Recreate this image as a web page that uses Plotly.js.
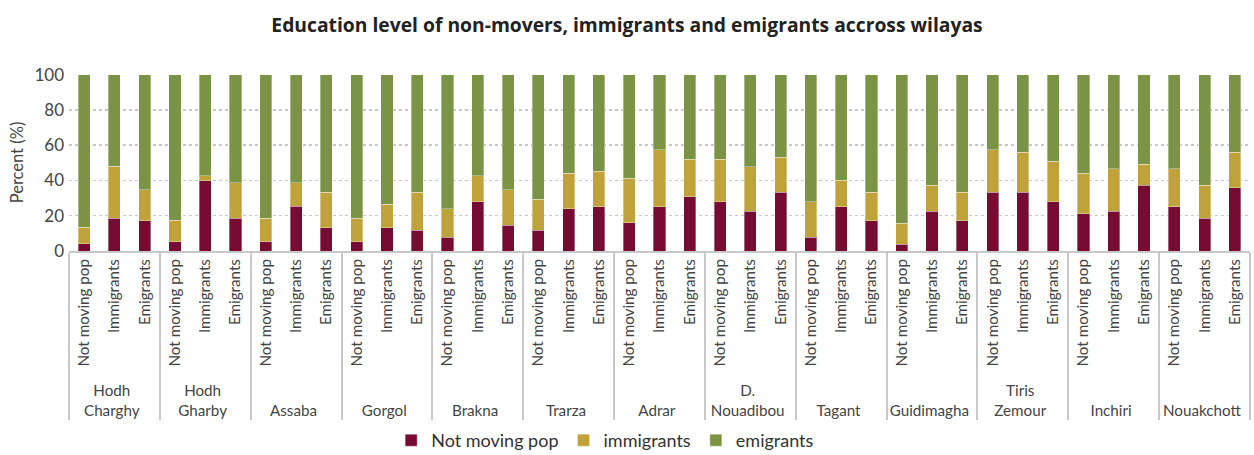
<!DOCTYPE html>
<html>
<head>
<meta charset="utf-8">
<script src="https://cdn.plot.ly/plotly-3.0.1.min.js"></script>
<style>html,body{margin:0;padding:0;background:#fff;}#chart{width:1254px;height:455px;}</style>
</head>
<body>
<div id="chart"></div>
<script>
const wilayas = ["Hodh<br>Charghy","Hodh<br>Gharby","Assaba","Gorgol","Brakna","Trarza","Adrar","D.<br>Nouadibou","Tagant","Guidimagha","Tiris<br>Zemour","Inchiri","Nouakchott"];
const groups = ["Not moving pop","Immigrants","Emigrants"];
// Share (%) per bar, ordered wilaya by wilaya: Not moving pop, Immigrants, Emigrants
const notMoving = [4.0,18.5,17.2, 5.3,39.8,18.5, 5.3,25.3,13.2, 5.3,13.2,11.9, 7.7,27.9,14.5, 11.9,24.0,25.1, 16.0,25.1,30.8, 27.9,22.6,33.2, 7.7,25.1,17.2, 3.8,22.5,17.2, 33.2,33.2,27.9, 21.1,22.5,37.2, 25.1,18.5,35.8];
const immigrants = [9.6,29.6,17.5, 12.1,3.0,20.2, 13.4,13.4,20.2, 13.4,13.4,21.5, 16.3,14.9,20.2, 17.5,20.2,20.2, 25.3,32.3,21.3, 24.2,25.3,20.0, 20.2,14.9,16.0, 12.0,14.7,16.0, 24.2,22.8,23.0, 22.9,24.1,12.0, 21.5,18.7,20.2];
const emigrants = [86.4,51.9,65.3, 82.6,57.2,61.3, 81.3,61.3,66.6, 81.3,73.4,66.6, 76.0,57.2,65.3, 70.6,55.8,54.7, 58.7,42.6,47.9, 47.9,52.1,46.8, 72.1,60.0,66.8, 84.2,62.8,66.8, 42.6,44.0,49.1, 56.0,53.4,50.8, 53.4,62.8,44.0];
const seriesNames = ["Not moving pop","immigrants","emigrants"];
const colors = ["#760c32","#c0a23a","#7a9344"];

// single-line wilaya labels sit on the second line, like in the reference
const wilayaLabels = wilayas.map(w => w.indexOf("<br>") >= 0 ? w : "&nbsp;<br>" + w);
const xGroups = [], xSubs = [];
wilayaLabels.forEach(w => groups.forEach(g => { xGroups.push(w); xSubs.push(g); }));

const values = [notMoving, immigrants, emigrants];
const traces = values.map((v, i) => ({
  type: "bar",
  name: seriesNames[i],
  x: [xGroups, xSubs],
  y: v,
  marker: {color: colors[i], line: {color: "rgba(255,255,255,0.35)", width: 1}},
  hoverinfo: "y+name"
}));

const font = "Lato, 'Open Sans', 'DejaVu Sans', sans-serif";
const layout = {
  width: 1254, height: 455,
  barmode: "stack",
  bargap: 0.6,
  paper_bgcolor: "#fff", plot_bgcolor: "#fff",
  font: {family: font, color: "#444", size: 15.2},
  title: {text: "<b>Education level of non-movers, immigrants and emigrants accross wilayas</b>",
          x: 0.5, xanchor: "center", y: 0.945, yanchor: "middle",
          font: {family: "'Open Sans', Lato, sans-serif", size: 19.3, color: "#222"}},
  margin: {l: 69, r: 4, t: 74, b: 204},
  xaxis: {
    type: "multicategory",
    tickangle: -90,
    tickfont: {family: font, size: 15.2, color: "#444"},
    showline: true, linecolor: "#c8c8c8", linewidth: 2,
    showdividers: true, dividercolor: "#c8c8c8", dividerwidth: 2,
    ticks: "", showgrid: false
  },
  yaxis: {
    range: [0, 100.4],
    tickvals: [0,20,40,60,80,100],
    tickfont: {family: font, size: 17, color: "#444"},
    ticklabelstandoff: 4,
    showgrid: true, gridcolor: "#c8c8c8", griddash: "dot", gridwidth: 1.5,
    zeroline: false, showline: false, ticks: "",
    title: {text: "Percent (%)", font: {family: font, size: 16.5, color: "#444"}, standoff: 6}
  },
  legend: {orientation: "h", x: 0.454, xanchor: "center",
           yref: "container", y: 0.032, yanchor: "middle",
           font: {family: font, size: 18, color: "#333"}, traceorder: "normal", itemwidth: 30},
  showlegend: true
};

Plotly.newPlot("chart", traces, layout, {displayModeBar: false, staticPlot: true});
</script>
</body>
</html>
